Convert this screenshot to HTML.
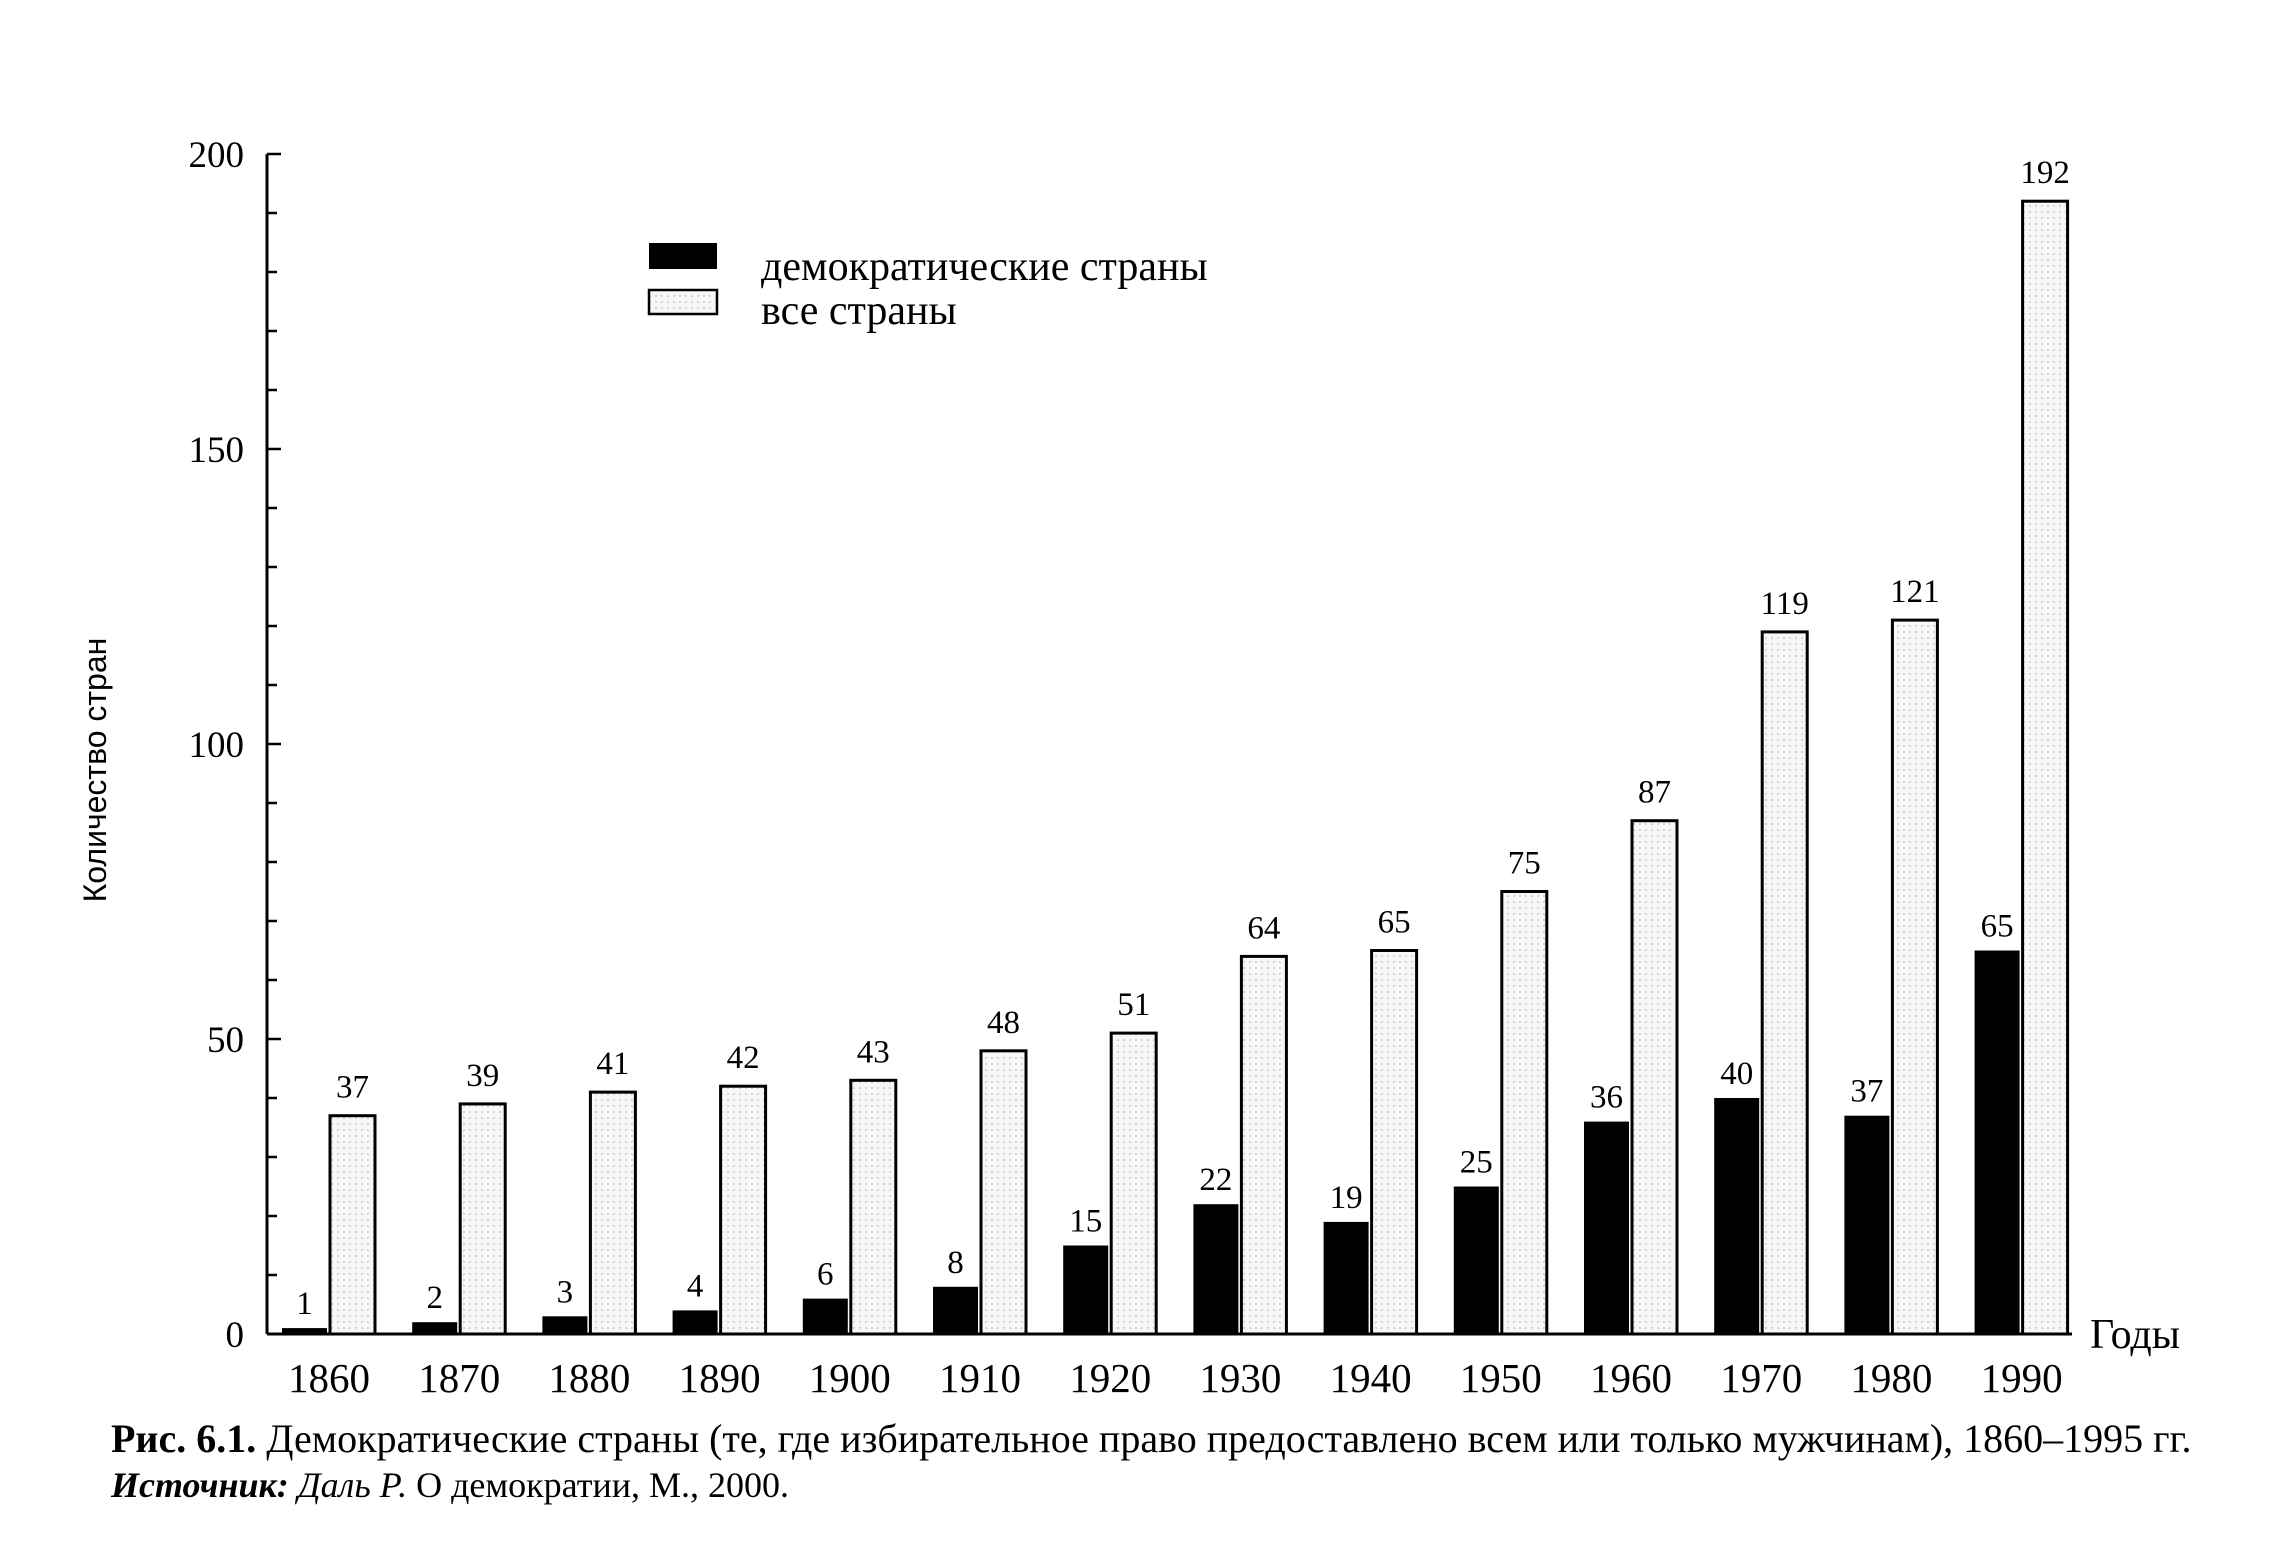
<!DOCTYPE html>
<html><head><meta charset="utf-8"><style>
body{margin:0;background:#fff;width:2295px;height:1546px;overflow:hidden}
svg{font-family:"Liberation Serif","Noto Serif CJK SC",serif}
</style></head><body>
<svg width="2295" height="1546" viewBox="0 0 2295 1546">
<defs><pattern id="dots" width="6" height="6" patternUnits="userSpaceOnUse"><rect width="6" height="6" fill="#f7f7f7"/><circle cx="2" cy="2" r="0.9" fill="#bbb"/></pattern></defs>
<g id="axes"></g><g id="bars"></g>
<g>
<rect x="649" y="243" width="68" height="26" fill="#000"/>
<text x="761" y="280" font-size="42">демократические страны</text>
<rect x="649" y="290" width="68" height="24" fill="url(#dots)" stroke="#000" stroke-width="2.5"/>
<text x="761" y="324" font-size="42">все страны</text>
</g>
<text transform="translate(106,770) rotate(-90)" text-anchor="middle" font-size="32" font-family="Liberation Sans, sans-serif">Количество стран</text>
<text x="2090" y="1348" font-size="42">Годы</text>
<text x="111" y="1452" font-size="40"><tspan font-weight="bold">Рис. 6.1.</tspan> Демократические страны (те, где избирательное право предоставлено всем или только мужчинам), 1860–1995 гг.</text>
<text x="111" y="1497" font-size="36"><tspan font-weight="bold" font-style="italic">Источник:</tspan> <tspan font-style="italic">Даль Р.</tspan> О демократии, М., 2000.</text>
</svg>
<script>
const years=["1860","1870","1880","1890","1900","1910","1920","1930","1940","1950","1960","1970","1980","1990"];
const democratic=[1,2,3,4,6,8,15,22,19,25,36,40,37,65];
const allCountries=[37,39,41,42,43,48,51,64,65,75,87,119,121,192];
const yTicks=[0,50,100,150,200];
const NS="http://www.w3.org/2000/svg";
const y0=1334,pxU=5.9,axX=267;
const y=v=>y0-v*pxU;
const gx=i=>282+i*130.2;
function mk(t,a,p){const e=document.createElementNS(NS,t);for(const k in a)e.setAttribute(k,a[k]);p.appendChild(e);return e;}
const ax=document.getElementById('axes'),bg=document.getElementById('bars');
let l=mk('line',{x1:axX,y1:y(200),x2:axX,y2:y0,stroke:'#000','stroke-width':3},ax);


l=mk('line',{x1:axX,y1:y0,x2:2072,y2:y0,stroke:'#000','stroke-width':3},ax);


for(let v=0;v<=200;v+=10){const t=mk('line',{x1:axX,y1:y(v),x2:axX+(v%50?10:14),y2:y(v),stroke:'#000','stroke-width':2.5},ax);

}
yTicks.forEach(v=>{const t=mk('text',{x:244,y:y(v)+13,'text-anchor':'end','font-size':37},ax);t.textContent=v;

});
years.forEach((yr,i)=>{
 const bx=gx(i),wx=bx+48,w=45;
 let r=mk('rect',{x:bx,y:y(democratic[i]),width:w,height:democratic[i]*pxU,fill:'#000'},bg);
 
 
 r=mk('rect',{x:wx,y:y(allCountries[i]),width:w,height:allCountries[i]*pxU,fill:'url(#dots)',stroke:'#000','stroke-width':3},bg);
 
 
 let t=mk('text',{x:bx+w/2,y:y(democratic[i])-14,'text-anchor':'middle','font-size':33},bg);t.textContent=democratic[i];
 
 
 t=mk('text',{x:wx+w/2,y:y(allCountries[i])-18,'text-anchor':'middle','font-size':33},bg);t.textContent=allCountries[i];
 
 
 t=mk('text',{x:bx+47,y:1392,'text-anchor':'middle','font-size':41},bg);t.textContent=yr;
 
 
});
</script>
</body></html>
